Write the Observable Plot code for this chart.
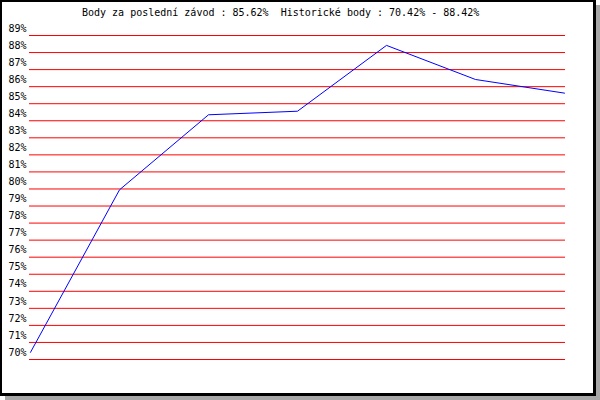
<!DOCTYPE html>
<html>
<head>
<meta charset="utf-8">
<script src="https://cdn.jsdelivr.net/npm/d3@7"></script>
<script src="https://cdn.jsdelivr.net/npm/@observablehq/plot@0.6"></script>
<style>
  html, body { margin: 0; padding: 0; background: white; }
  #wrap { position: relative; width: 600px; height: 400px; overflow: hidden; }
  #shadow { position: absolute; left: 5px; top: 5px; width: 595px; height: 395px; background: #a8a8a8; }
  #box { position: absolute; left: 0; top: 0; width: 596px; height: 396px; box-sizing: border-box;
         background: white; border-style: solid; border-color: black; border-width: 2px 3px 3px 2px; }
  #chart { position: absolute; left: 0; top: 0; }
  #title { position: absolute; left: 82px; top: 7px; font: 10px "DejaVu Sans Mono", monospace;
           line-height: 12px; white-space: pre; color: black; }
</style>
</head>
<body>
<div id="wrap">
  <div id="shadow"></div>
  <div id="box"></div>
  <div id="chart"></div>
  <div id="title"></div>
</div>
<script>
const titleText = "Body za poslední závod : 85.62%  Historické body : 70.42% - 88.42%";
const races = [1, 2, 3, 4, 5, 6, 7];
const points = [70.42, 79.95, 84.35, 84.56, 88.42, 86.42, 85.62];
const yTicks = [70, 71, 72, 73, 74, 75, 76, 77, 78, 79, 80, 81, 82, 83, 84, 85, 86, 87, 88, 89];

const data = races.map((r, i) => ({race: r, value: points[i]}));

document.getElementById("title").textContent = titleText;

const chart = Plot.plot({
  width: 600,
  height: 400,
  marginLeft: 29,
  marginRight: 35,
  marginTop: 35,
  marginBottom: 41,
  style: {background: "transparent", fontFamily: "DejaVu Sans Mono, monospace", fontSize: "10px", color: "black"},
  x: {type: "point", domain: races, padding: 0, axis: null},
  y: {domain: [70, 89], axis: null},
  marks: [
    Plot.ruleY(yTicks, {stroke: "red", strokeWidth: 1}),
    Plot.axisY(yTicks, {tickSize: 0, tickPadding: 3, tickFormat: d => d + "%", dy: -7, fill: "black", fontSize: 10, label: null}),
    Plot.line(data, {x: "race", y: "value", stroke: "blue", strokeWidth: 1})
  ]
});
document.getElementById("chart").appendChild(chart);
</script>
</body>
</html>
